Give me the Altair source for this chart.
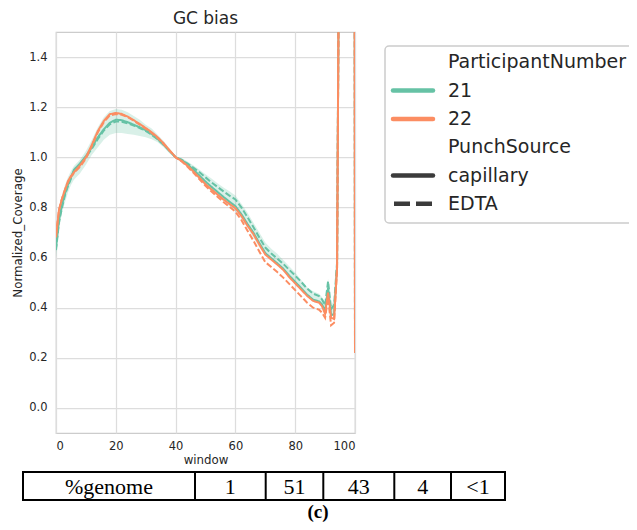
import altair as alt
import pandas as pd

# ---------------- data ----------------
windows = [0, 1, 2, 3, 4, 5, 6, 8, 10, 12, 14, 16, 18, 20, 22, 24, 26, 28, 30, 32,
           34, 36, 38, 40, 42, 44, 46, 48, 50, 52, 54, 56, 58, 60, 62, 64, 66, 68, 70, 72,
           74, 76, 78, 80, 82, 84, 86, 88, 89, 90, 91, 92, 93, 94, 95, 96, 97, 98, 99, 100]

p21_capillary = [0.64, 0.75, 0.81, 0.855, 0.89, 0.92, 0.95, 0.975, 1.005, 1.04, 1.08, 1.112, 1.138, 1.15, 1.148, 1.14, 1.13, 1.12, 1.108, 1.093,
                 1.073, 1.05, 1.025, 1.0, 0.99, 0.972, 0.95, 0.927, 0.903, 0.882, 0.862, 0.842, 0.823, 0.805, 0.773, 0.735, 0.70, 0.658, 0.618, 0.597,
                 0.577, 0.556, 0.528, 0.503, 0.478, 0.452, 0.432, 0.425, 0.413, 0.385, 0.48, 0.37, 0.375, 0.57, 2.6, 4.0, 6.0, 9.0, 14.0, 0.22]

p21_edta = [0.63, 0.74, 0.80, 0.85, 0.885, 0.915, 0.945, 0.97, 1.0, 1.035, 1.073, 1.107, 1.132, 1.143, 1.142, 1.135, 1.127, 1.117, 1.105, 1.09,
            1.072, 1.05, 1.026, 1.0, 0.99, 0.975, 0.958, 0.94, 0.92, 0.9, 0.882, 0.864, 0.847, 0.832, 0.8, 0.762, 0.722, 0.68, 0.64, 0.616,
            0.596, 0.575, 0.551, 0.528, 0.503, 0.476, 0.456, 0.446, 0.432, 0.41, 0.505, 0.395, 0.41, 0.58, 2.6, 4.0, 6.0, 9.0, 14.0, 0.22]

p22_capillary = [0.68, 0.79, 0.835, 0.87, 0.905, 0.925, 0.94, 0.967, 1.0, 1.05, 1.105, 1.145, 1.172, 1.177, 1.173, 1.162, 1.148, 1.133, 1.117, 1.10,
                 1.08, 1.056, 1.028, 1.0, 0.986, 0.966, 0.943, 0.918, 0.893, 0.872, 0.852, 0.832, 0.814, 0.797, 0.766, 0.728, 0.694, 0.652, 0.612, 0.592,
                 0.572, 0.551, 0.522, 0.497, 0.472, 0.447, 0.427, 0.42, 0.405, 0.375, 0.46, 0.36, 0.355, 0.56, 2.6, 4.0, 6.0, 9.0, 14.0, 0.22]

p22_edta = [0.69, 0.79, 0.835, 0.87, 0.90, 0.922, 0.937, 0.962, 0.995, 1.045, 1.10, 1.14, 1.167, 1.173, 1.17, 1.16, 1.146, 1.13, 1.114, 1.097,
            1.077, 1.053, 1.026, 1.0, 0.984, 0.962, 0.938, 0.912, 0.886, 0.864, 0.843, 0.822, 0.803, 0.783, 0.75, 0.708, 0.668, 0.624, 0.582, 0.562,
            0.542, 0.52, 0.495, 0.47, 0.445, 0.42, 0.40, 0.392, 0.38, 0.36, 0.44, 0.33, 0.34, 0.55, 2.6, 4.0, 6.0, 9.0, 14.0, 0.22]

band21_low = [0.60, 0.71, 0.78, 0.82, 0.86, 0.89, 0.91, 0.935, 0.97, 1.01, 1.04, 1.07, 1.09, 1.097, 1.097, 1.093, 1.09, 1.085, 1.08, 1.072,
              1.06, 1.04, 1.015, 0.995, 0.98, 0.96, 0.935, 0.91, 0.885, 0.865, 0.845, 0.825, 0.805, 0.785, 0.755, 0.72, 0.68, 0.64, 0.61, 0.59,
              0.57, 0.55, 0.525, 0.50, 0.475, 0.45, 0.43, 0.42, 0.41, 0.38, 0.46, 0.365, 0.37, 0.55, 2.4, 3.8, 5.8, 8.8, 13.8, 0.21]

band21_high = [0.72, 0.80, 0.85, 0.89, 0.92, 0.945, 0.965, 0.99, 1.025, 1.07, 1.12, 1.16, 1.185, 1.193, 1.19, 1.18, 1.165, 1.15, 1.13, 1.115,
               1.09, 1.065, 1.035, 1.005, 0.997, 0.983, 0.967, 0.95, 0.932, 0.915, 0.897, 0.88, 0.865, 0.848, 0.815, 0.78, 0.74, 0.70, 0.66, 0.635,
               0.615, 0.59, 0.565, 0.54, 0.51, 0.482, 0.466, 0.456, 0.442, 0.42, 0.515, 0.41, 0.43, 0.60, 2.8, 4.2, 6.2, 9.2, 14.2, 0.23]

participants = ["21", "22"]
punch_sources = ["capillary", "EDTA"]
table_labels = ["%genome", "1", "51", "43", "4", "<1"]

GREEN = "#66c2a5"
ORANGE = "#fc8d62"
DASH = [6, 2.5]


def series_frame(values, participant, source):
    return pd.DataFrame({"window": windows, "value": values,
                         "participant": participant, "source": source})


green_df = pd.concat([series_frame(p21_capillary, "21", "capillary"),
                      series_frame(p21_edta, "21", "EDTA")], ignore_index=True)
orange_df = pd.concat([series_frame(p22_capillary, "22", "capillary"),
                       series_frame(p22_edta, "22", "EDTA")], ignore_index=True)
band_df = pd.DataFrame({"window": windows, "low": band21_low, "high": band21_high})

# ---------------- scales / axes ----------------
x_scale = alt.Scale(domain=[0, 100], nice=False, zero=False)
y_scale = alt.Scale(domain=[-0.1, 1.5], nice=False, zero=False)
x_axis = alt.Axis(values=[0, 20, 40, 60, 80, 100], title="window", labelPadding=7, titlePadding=3)
y_axis = alt.Axis(values=[0.0, 0.2, 0.4, 0.6, 0.8, 1.0, 1.2, 1.4], format=".1f",
                  title="Normalized_Coverage", labelPadding=9, titlePadding=5)
dash_enc = alt.StrokeDash("source:N",
                          scale=alt.Scale(domain=punch_sources, range=[[1, 0], DASH]),
                          legend=None)

band = alt.Chart(band_df).mark_area(clip=True, color=GREEN, opacity=0.25).encode(
    x=alt.X("window:Q", scale=x_scale, axis=x_axis),
    y=alt.Y("low:Q", scale=y_scale, axis=y_axis),
    y2="high:Q",
)

green_lines = alt.Chart(green_df).mark_line(clip=True, color=GREEN, strokeWidth=2).encode(
    x=alt.X("window:Q", scale=x_scale, axis=x_axis),
    y=alt.Y("value:Q", scale=y_scale, axis=y_axis),
    strokeDash=dash_enc,
    detail="source:N",
)

orange_lines = alt.Chart(orange_df).mark_line(clip=True, color=ORANGE, strokeWidth=2).encode(
    x=alt.X("window:Q", scale=x_scale, axis=x_axis),
    y=alt.Y("value:Q", scale=y_scale, axis=y_axis),
    strokeDash=dash_enc,
    detail="source:N",
)

one = pd.DataFrame({"k": [0]})

title_text = alt.Chart(one).mark_text(
    text="GC bias", font="DejaVu Sans", fontSize=17, color="#262626",
    align="center", baseline="alphabetic",
).encode(x=alt.value(149.5), y=alt.value(-8.5))

# ---------------- legend (seaborn style, single box) ----------------
legend_box = alt.Chart(one).mark_rect(
    fill="white", stroke="#cccccc", strokeWidth=1.5, cornerRadius=4,
).encode(x=alt.value(329), x2=alt.value(640), y=alt.value(14), y2=alt.value(191))

legend_labels = ["ParticipantNumber"] + participants + ["PunchSource"] + punch_sources
row_y = [30.3 + i * 28.3 for i in range(len(legend_labels))]
legend_text_df = pd.DataFrame({"label": legend_labels, "ry": row_y})
legend_text = alt.Chart(legend_text_df).mark_text(
    font="DejaVu Sans", fontSize=19, color="#262626", align="left", baseline="middle",
).encode(x=alt.value(392), y=alt.Y("ry:Q", scale=None), text="label:N")

legend_solid_df = pd.DataFrame({"ry": [row_y[1], row_y[2], row_y[4]],
                                "c": [GREEN, ORANGE, "#3b3b3b"]})
legend_solid = alt.Chart(legend_solid_df).mark_rule(strokeWidth=4.5, strokeCap="round").encode(
    x=alt.value(337), x2=alt.value(377), y=alt.Y("ry:Q", scale=None),
    color=alt.Color("c:N", scale=None),
)
legend_dash_df = pd.DataFrame({"ry": [row_y[5]]})
legend_dash = alt.Chart(legend_dash_df).mark_rule(
    strokeWidth=4.5, color="#3b3b3b", strokeDash=[16, 6],
).encode(x=alt.value(338), x2=alt.value(378), y=alt.Y("ry:Q", scale=None))

# ---------------- table below the chart ----------------
col_edges = [-33, 139, 209.7, 267.3, 338.3, 395, 449]
table_top, table_bottom = 440, 468
table_box = alt.Chart(one).mark_rect(
    fillOpacity=0, stroke="black", strokeWidth=2,
).encode(x=alt.value(col_edges[0]), x2=alt.value(col_edges[-1]),
         y=alt.value(table_top), y2=alt.value(table_bottom))
dividers = alt.Chart(pd.DataFrame({"px": col_edges[1:-1]})).mark_rule(
    color="black", strokeWidth=2,
).encode(x=alt.X("px:Q", scale=None), y=alt.value(table_top), y2=alt.value(table_bottom))
centers = [(col_edges[i] + col_edges[i + 1]) / 2 for i in range(len(table_labels))]
table_text = alt.Chart(pd.DataFrame({"label": table_labels, "px": centers})).mark_text(
    font="Liberation Serif", fontSize=22, color="black", align="center", baseline="middle",
).encode(x=alt.X("px:Q", scale=None), y=alt.value(455), text="label:N")
caption = alt.Chart(one).mark_text(
    text="(c)", font="Liberation Serif", fontSize=19, fontWeight="bold", color="black",
    align="center", baseline="middle",
).encode(x=alt.value(262), y=alt.value(480))

chart = alt.layer(
    band, green_lines, orange_lines, title_text,
    legend_box, legend_text, legend_solid, legend_dash,
    table_box, dividers, table_text, caption,
).properties(
    width=299, height=401,
    autosize=alt.AutoSizeParams(type="none"),
    padding={"left": 48, "top": 24, "right": 274, "bottom": 89},
).configure_view(
    stroke="#cccccc", strokeWidth=1.25,
).configure_axis(
    grid=True, gridColor="#dddddd", gridWidth=1.25, domain=False, ticks=False, tickSize=0,
    labelFont="DejaVu Sans", labelFontSize=11.5, labelColor="#262626",
    titleFont="DejaVu Sans", titleFontSize=11.8, titleColor="#262626", titleFontWeight="normal",
)

chart.save("out.html", embed_options={"renderer": "svg", "actions": False})
